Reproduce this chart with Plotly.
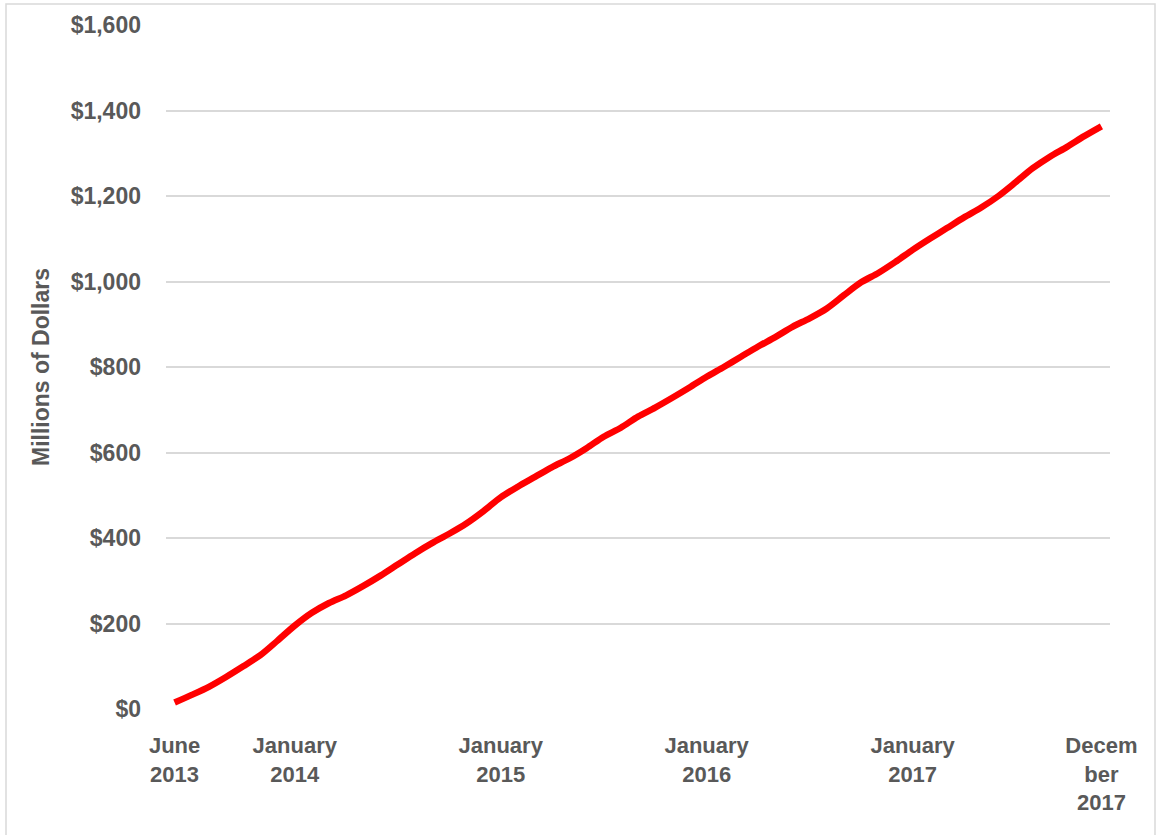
import plotly.graph_objects as go
import pandas as pd

# Monthly categories June 2013 .. December 2017
months = [d.strftime("%b %Y") for d in pd.date_range("2013-06-01", "2017-12-01", freq="MS")]

# Cumulative value, millions of dollars
values = [15, 33, 52, 75, 100, 126, 160, 195, 225, 248,
          266, 288, 312, 338, 364, 388, 410, 434, 463, 495,
          520, 543, 566, 586, 610, 637, 658, 684, 705, 728,
          752, 777, 800, 824, 848, 870, 894, 914, 937, 968,
          998, 1020, 1046, 1074, 1100, 1125, 1150, 1173, 1200, 1232,
          1265, 1292, 1315, 1340, 1363]

tick_months = ["Jun 2013", "Jan 2014", "Jan 2015", "Jan 2016", "Jan 2017", "Dec 2017"]
tick_text = ["June<br>2013", "January<br>2014", "January<br>2015",
             "January<br>2016", "January<br>2017", "Decem<br>ber<br>2017"]

y_ticks = [0, 200, 400, 600, 800, 1000, 1200, 1400, 1600]
y_text = ["$0", "$200", "$400", "$600", "$800", "$1,000", "$1,200", "$1,400", "$1,600"]

FONT = "Liberation Sans"
GREY = "#595959"

fig = go.Figure()
fig.add_trace(go.Scatter(
    x=months, y=values, mode="lines",
    line=dict(color="#FF0000", width=6.5, shape="spline", smoothing=0.8),
    hoverinfo="x+y", showlegend=False,
))

L, R, T, B = 166, 50, 25, 126
W, H = 1160, 835
pw = W - L - R
ph = H - T - B

fig.update_layout(
    width=W, height=H,
    margin=dict(l=L, r=R, t=T, b=B),
    paper_bgcolor="white", plot_bgcolor="white",
    font=dict(family=FONT, color=GREY),
    xaxis=dict(
        type="category", categoryorder="array", categoryarray=months,
        range=[-0.5, len(months) - 0.5],
        tickmode="array", tickvals=tick_months, ticktext=tick_text,
        tickfont=dict(family=FONT, size=22, color=GREY, weight="bold"),
        showgrid=False, showline=False, zeroline=False, ticks="",
        ticklabelstandoff=21,
    ),
    yaxis=dict(
        range=[0, 1600],
        tickmode="array", tickvals=y_ticks, ticktext=y_text,
        tickfont=dict(family=FONT, size=23, color=GREY, weight="bold"),
        showgrid=True, gridcolor="#D9D9D9", gridwidth=1.5,
        zeroline=False, showline=False, ticks="",
        ticklabelstandoff=24,
        title=dict(text="Millions of Dollars", standoff=14,
                   font=dict(family=FONT, size=23, color=GREY, weight="bold")),
    ),
    shapes=[dict(
        type="rect", xref="paper", yref="paper",
        x0=(6 - L) / pw, x1=(1155 - L) / pw,
        y0=(H - B - 845) / ph, y1=(H - B - 4) / ph,
        line=dict(color="#D9D9D9", width=1.5), fillcolor="rgba(0,0,0,0)",
        layer="below",
    )],
)

fig.write_html("out.html")
